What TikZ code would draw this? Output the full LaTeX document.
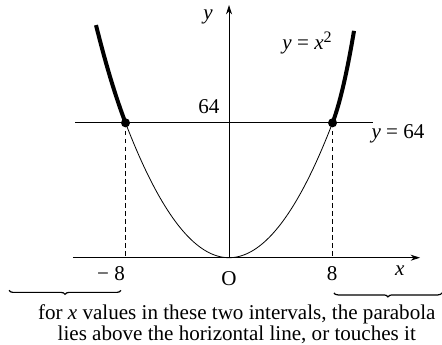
\documentclass[tikz,border=0pt]{standalone}
\usepackage{fontspec}
\setmainfont{Liberation Serif}
\usetikzlibrary{arrows.meta,decorations.pathreplacing}
\tikzset{
  axis/.style={line width=.7pt},
  thincurve/.style={line width=.6pt},
  boldcurve/.style={line width=3pt},
  ivbrace/.style={line width=.9pt,decorate,decoration={brace,mirror,amplitude=3pt}},
}
\begin{document}
\begin{tikzpicture}[x=9.7pt,y=1.58pt,font=\fontsize{15.8}{15.5}\selectfont]
\useasboundingbox (-17.70,-41.23) rectangle (16.46,122.27);
\coordinate (O) at (0,0);
\coordinate (xl) at (-12.06,0);\coordinate (xr) at (14.76,0);
\coordinate (yt) at (0,119.9);
\coordinate (hl) at (-11.9,64);\coordinate (hr) at (11.13,64);
\draw[axis,-{Stealth[length=7pt,width=4.5pt]}] (xl)--(xr);
\draw[axis,-{Stealth[length=7pt,width=4.5pt]}] (O)--(yt);
\draw[thincurve] (hl)--(hr);
\draw[thincurve,domain=-8:8,samples=80] plot (\x,{\x*\x});
% steeper outer parts
\draw[boldcurve,domain=-10.28:-8,samples=20] plot (\x,{\x*\x+.9*(\x+8)^2});
\draw[boldcurve,domain=8:9.66,samples=20] plot (\x,{\x*\x+5.2*(\x-8)^2});
\foreach \s/\n in {-8/l,8/r}{
\coordinate (p\n) at (\s,64);\coordinate (f\n) at (\s,0);
\draw[thincurve,dash pattern=on 3.5pt off 2.5pt] (p\n)--(f\n);
\fill (p\n) circle (3.4pt);
}
\node (ylab) at (-1.62,114.2) {\textit{y}};
\node (xlab) at (13.2,-6.2) {\textit{x}};
\node (curvelab) at (6.03,101.9) {\textit{y} = \textit{x}\raisebox{.75ex}{\fontsize{12}{12}\selectfont 2}};
\node (hlab) at (13.06,58.8) {\textit{y} = 64};
\node (ticklab) at (-1.55,71.6) {64};
\node (mlab) at (-9.12,-7.6) {− 8};
\node (olab) at (0,-10) {O};
\node (plab) at (7.96,-7.6) {8};
\coordinate (bl1) at (-17.0,-15.5);\coordinate (bl2) at (-8.35,-15.5);
\coordinate (br1) at (8.11,-16.7);\coordinate (br2) at (16.46,-16.7);
\draw[ivbrace] (bl1)--(bl2);
\draw[ivbrace] (br1)--(br2);
\node[align=center] (note) at (0.6,-31.6) {for \textit{x} values in these two intervals, the parabola\\lies above the horizontal line, or touches it};
\end{tikzpicture}
\end{document}
